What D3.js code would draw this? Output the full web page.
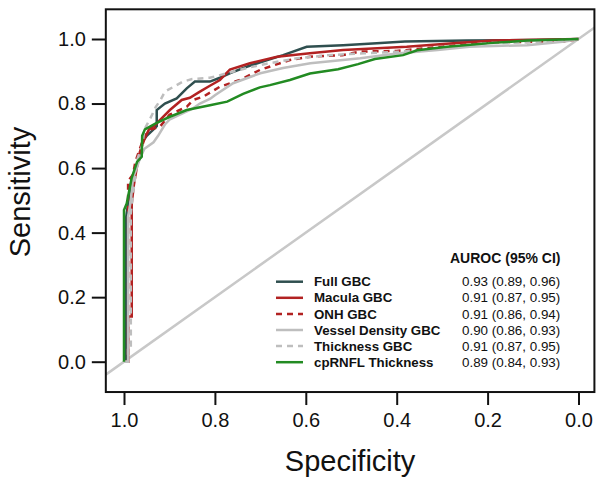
<!DOCTYPE html>
<html>
<head>
<meta charset="utf-8">
<script src="https://cdn.jsdelivr.net/npm/d3@7"></script>
<style>
  body { margin: 0; background: #fff; }
  text { font-family: "Liberation Sans", Arial, sans-serif; }
</style>
</head>
<body>
<div id="chart"></div>
<script>
// ROC curves, [specificity, sensitivity]
var fullGBC = [[1,0],[0.995,0],[0.995,0.45],[0.99,0.50],[0.985,0.55],[0.975,0.60],[0.965,0.63],[0.96,0.68],[0.95,0.70],[0.935,0.72],[0.928,0.73],[0.928,0.78],[0.91,0.80],[0.884,0.816],[0.862,0.847],[0.844,0.868],[0.811,0.868],[0.789,0.88],[0.765,0.895],[0.73,0.914],[0.70,0.928],[0.65,0.95],[0.598,0.976],[0.518,0.981],[0.444,0.987],[0.382,0.992],[0.245,0.995],[0.05,0.998],[0,1]];
var maculaGBC = [[1,0],[0.991,0],[0.991,0.14],[0.983,0.14],[0.983,0.49],[0.978,0.55],[0.972,0.60],[0.965,0.65],[0.955,0.69],[0.945,0.72],[0.93,0.735],[0.921,0.749],[0.899,0.78],[0.873,0.811],[0.855,0.818],[0.833,0.837],[0.811,0.855],[0.789,0.873],[0.767,0.905],[0.723,0.925],[0.663,0.945],[0.591,0.956],[0.518,0.966],[0.378,0.976],[0.276,0.987],[0.188,0.995],[0,1]];
var onhGBC = [[1,0],[0.991,0],[0.991,0.56],[0.98,0.58],[0.975,0.62],[0.965,0.66],[0.955,0.70],[0.94,0.72],[0.921,0.728],[0.9,0.765],[0.862,0.79],[0.848,0.811],[0.826,0.821],[0.789,0.852],[0.745,0.873],[0.701,0.904],[0.68,0.914],[0.635,0.935],[0.591,0.945],[0.52,0.95],[0.48,0.961],[0.40,0.963],[0.30,0.976],[0.19,0.99],[0.03,0.992],[0,1]];
var vesselGBC = [[1,0],[0.991,0],[0.991,0.45],[0.985,0.50],[0.98,0.57],[0.972,0.60],[0.965,0.63],[0.955,0.66],[0.935,0.68],[0.925,0.70],[0.91,0.735],[0.9,0.75],[0.87,0.77],[0.848,0.785],[0.833,0.80],[0.81,0.815],[0.8,0.826],[0.76,0.863],[0.70,0.894],[0.65,0.91],[0.59,0.925],[0.48,0.94],[0.40,0.955],[0.31,0.966],[0.24,0.976],[0.113,0.981],[0.03,0.992],[0,1]];
var thicknessGBC = [[1,0],[0.991,0],[0.991,0.05],[0.985,0.05],[0.985,0.46],[0.98,0.52],[0.975,0.58],[0.97,0.63],[0.96,0.67],[0.955,0.72],[0.94,0.76],[0.93,0.79],[0.92,0.81],[0.91,0.837],[0.87,0.868],[0.85,0.876],[0.811,0.88],[0.77,0.895],[0.73,0.91],[0.68,0.925],[0.62,0.94],[0.55,0.95],[0.47,0.956],[0.39,0.961],[0.27,0.975],[0.2,0.987],[0.1,0.99],[0,1]];
var cpRNFL = [[1,0],[1,0.47],[0.994,0.49],[0.983,0.57],[0.971,0.62],[0.961,0.635],[0.96,0.70],[0.954,0.72],[0.928,0.74],[0.899,0.759],[0.862,0.78],[0.811,0.795],[0.773,0.806],[0.738,0.83],[0.701,0.85],[0.679,0.857],[0.635,0.873],[0.591,0.893],[0.529,0.906],[0.485,0.922],[0.448,0.938],[0.386,0.95],[0.355,0.965],[0.289,0.976],[0.188,0.988],[0.113,0.995],[0,1]];

var names = ["Full GBC", "Macula GBC", "ONH GBC", "Vessel Density GBC", "Thickness GBC", "cpRNFL Thickness"];
var aurocs = ["0.93 (0.89, 0.96)", "0.91 (0.87, 0.95)", "0.91 (0.86, 0.94)", "0.90 (0.86, 0.93)", "0.91 (0.87, 0.95)", "0.89 (0.84, 0.93)"];
var tickVals = [1.0, 0.8, 0.6, 0.4, 0.2, 0.0];

var curves = [fullGBC, maculaGBC, onhGBC, vesselGBC, thicknessGBC, cpRNFL];
var colors = ["#2f4f4f", "#b22222", "#b22222", "#bebebe", "#bebebe", "#228b22"];
var dashes = [null, null, "6,5", null, "6,5", null];

var svg = d3.select("#chart")
  .append("svg")
    .attr("width", 596)
    .attr("height", 486);

var x = d3.scaleLinear().domain([1, 0]).range([124, 578.5]);
var y = d3.scaleLinear().domain([0, 1]).range([361.7, 39]);

var x0 = x(1.04), x1 = x(-0.035), yT = y(1.092), yB = y(-0.094);

svg.append("clipPath")
    .attr("id", "clip")
  .append("rect")
    .attr("x", x0).attr("y", yT)
    .attr("width", x1 - x0).attr("height", yB - yT);

var plot = svg.append("g").attr("clip-path", "url(#clip)");

// chance line
plot.append("line")
    .attr("x1", x(1.04)).attr("y1", y(-0.04))
    .attr("x2", x(-0.04)).attr("y2", y(1.04))
    .attr("stroke", "#c8c8c8")
    .attr("stroke-width", 2.5);

var line = d3.line()
    .x(function(d) { return x(d[0]); })
    .y(function(d) { return y(d[1]); });

curves.forEach(function(c, i) {
  plot.append("path")
      .datum(c)
      .attr("d", line)
      .attr("fill", "none")
      .attr("stroke", colors[i])
      .attr("stroke-width", 2.5)
      .attr("stroke-dasharray", dashes[i]);
});

// box
svg.append("rect")
    .attr("x", x0).attr("y", yT)
    .attr("width", x1 - x0).attr("height", yB - yT)
    .attr("fill", "none")
    .attr("stroke", "#111")
    .attr("stroke-width", 2);

var xAxis = svg.append("g")
    .attr("transform", "translate(0," + yB + ")")
    .call(d3.axisBottom(x).tickValues(tickVals).tickSize(13).tickPadding(8).tickFormat(d3.format(".1f")));

var yAxis = svg.append("g")
    .attr("transform", "translate(" + x0 + ",0)")
    .call(d3.axisLeft(y).tickValues(tickVals).tickSize(14).tickPadding(6).tickFormat(d3.format(".1f")));

[xAxis, yAxis].forEach(function(a) {
  a.select(".domain").remove();
  a.selectAll(".tick line").attr("stroke", "#111").attr("stroke-width", 2);
  a.selectAll(".tick text")
      .attr("font-size", 20)
      .attr("font-family", "Liberation Sans, Arial, sans-serif")
      .attr("fill", "#111");
});

svg.append("text")
    .attr("x", (x0 + x1) / 2)
    .attr("y", 471)
    .attr("text-anchor", "middle")
    .attr("font-size", 29)
    .attr("fill", "#111")
    .text("Specificity");

svg.append("text")
    .attr("transform", "translate(30," + 192 + ") rotate(-90)")
    .attr("text-anchor", "middle")
    .attr("font-size", 29)
    .attr("fill", "#111")
    .text("Sensitivity");

// legend
svg.append("text")
    .attr("x", 450)
    .attr("y", 258)
    .attr("dy", "0.35em")
    .attr("font-size", 14)
    .attr("font-weight", "bold")
    .attr("fill", "#111")
    .text("AUROC (95% CI)");

names.forEach(function(n, i) {
  var ly = 281.7 + i * 16.1;
  svg.append("line")
      .attr("x1", 276).attr("x2", 303)
      .attr("y1", ly).attr("y2", ly)
      .attr("stroke", colors[i])
      .attr("stroke-width", 2.5)
      .attr("stroke-dasharray", dashes[i]);
  svg.append("text")
      .attr("x", 314).attr("y", ly)
      .attr("dy", "0.35em")
      .attr("font-size", 13.3)
      .attr("font-weight", "bold")
      .attr("fill", "#111")
      .text(n);
  svg.append("text")
      .attr("x", 462).attr("y", ly)
      .attr("dy", "0.35em")
      .attr("font-size", 13.4)
      .attr("fill", "#111")
      .text(aurocs[i]);
});
</script>
</body>
</html>
